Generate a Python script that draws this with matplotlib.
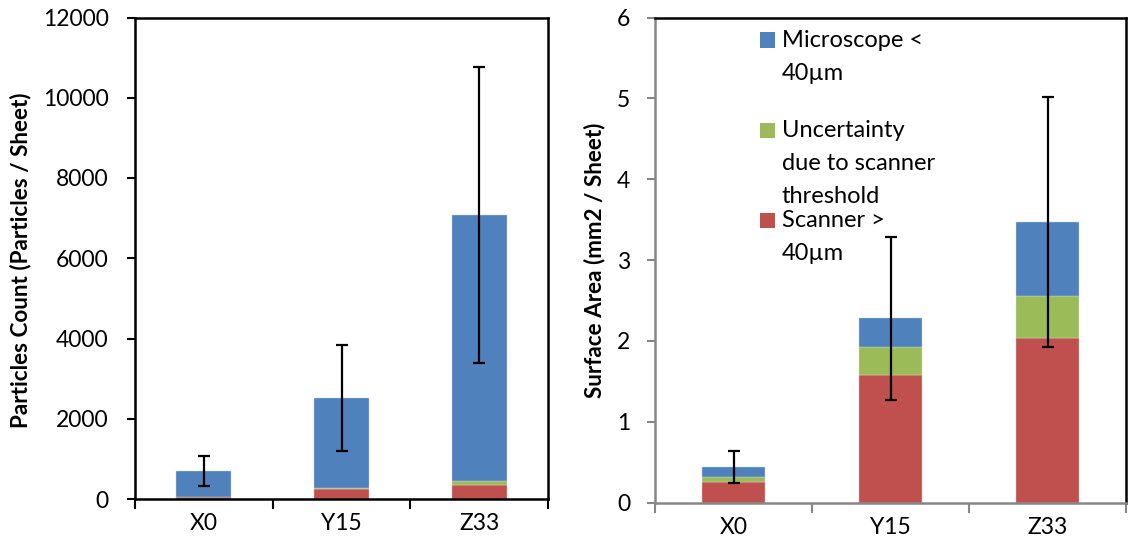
import matplotlib
matplotlib.use("Agg")
import matplotlib.pyplot as plt
from matplotlib.patches import Rectangle
import numpy as np

plt.rcParams['font.family'] = ['Lato', 'DejaVu Sans']

# ---- data ----
categories = ["X0", "Y15", "Z33"]

count_scanner = [40, 240, 340]
count_uncert = [5, 43, 100]
count_micro = [655, 2232, 6630]
count_err = [375, 1318, 3690]

area_scanner = [0.257, 1.573, 2.04]
area_uncert = [0.063, 0.352, 0.52]
area_micro = [0.12, 0.355, 0.91]
area_err = [0.20, 1.005, 1.55]

legend_labels = ["Microscope <\n40µm", "Uncertainty\ndue to scanner\nthreshold", "Scanner >\n40µm"]

c_blue = "#4F81BD"
c_green = "#9BBB59"
c_red = "#C0504D"

W, H = 1131, 546
fig = plt.figure(figsize=(W / 100, H / 100), dpi=100)

def fx(px):
    return px / W

def fy(py):
    return 1 - py / H

ax1 = fig.add_axes([fx(135), fy(499), fx(548) - fx(135), fy(17.5) - fy(499)])
ax2 = fig.add_axes([fx(655), fy(502.7), fx(1126) - fx(655), fy(17.5) - fy(502.7)])

TICK_FS = 16.5


def draw(ax, scanner, uncert, micro, err, ylim, step, spine_col, ypad):
    x = np.arange(len(categories))
    scanner = np.array(scanner)
    uncert = np.array(uncert)
    micro = np.array(micro)
    w = 0.4
    ax.bar(x, scanner, w, color=c_red, edgecolor="#e4c4c3", linewidth=0.3, zorder=2)
    ax.bar(x, uncert, w, bottom=scanner, color=c_green, edgecolor="#d4e2bd", linewidth=0.3, zorder=2)
    total = scanner + uncert + micro
    ax.bar(x, micro, w, bottom=scanner + uncert, color=c_blue, edgecolor="#c4d4ea", linewidth=0.3, zorder=2)
    ax.errorbar(x, total, yerr=err, fmt="none", ecolor="black", elinewidth=1.6,
                capsize=4.3, capthick=1.6, zorder=3)
    ax.set_xlim(-0.5, len(categories) - 0.5)
    ax.set_ylim(*ylim)
    ax.set_yticks(np.arange(ylim[0], ylim[1] + step / 2, step))
    ax.set_xticks(np.arange(-0.5, len(categories), 1.0))
    ax.set_xticklabels([])
    ax.set_xticks(x, minor=True)
    ax.set_xticklabels(categories, minor=True)
    ax.tick_params(axis="x", which="minor", length=0, pad=10, labelsize=TICK_FS)
    ax.tick_params(axis="x", which="major", length=7, width=1.5, color=spine_col)
    ax.tick_params(axis="y", length=6, width=1.5, pad=ypad, labelsize=TICK_FS, color=spine_col)
    for s in ["top", "right"]:
        ax.spines[s].set_color("black")
        ax.spines[s].set_linewidth(1.8)
    for s in ["left", "bottom"]:
        ax.spines[s].set_color(spine_col)
        ax.spines[s].set_linewidth(1.8)


draw(ax1, count_scanner, count_uncert, count_micro, count_err, (0, 12000), 2000, "black", 13)
draw(ax2, area_scanner, area_uncert, area_micro, area_err, (0, 6), 1, "#868686", 12)

fig.text(fx(21), fy(260), "Particles Count (Particles / Sheet)", rotation=90,
         ha="center", va="center", fontsize=16.2, fontweight="bold")
fig.text(fx(595), fy(260), "Surface Area (mm2 / Sheet)", rotation=90,
         ha="center", va="center", fontsize=16.2, fontweight="bold")

# legend (Excel-style fixed slots, lines placed one by one)
leg_colors = [c_blue, c_green, c_red]
slot_y = [40, 130, 220]
line_gap = 33
for lab, col, yc in zip(legend_labels, leg_colors, slot_y):
    fig.patches.append(Rectangle((fx(760), fy(yc + 7.5)), fx(15), fy(0) - fy(15),
                                 transform=fig.transFigure, facecolor=col, edgecolor="none"))
    for i, line in enumerate(lab.split("\n")):
        fig.text(fx(782), fy(yc + 7 + i * line_gap), line, ha="left", va="baseline", fontsize=17)

fig.savefig("out.png", dpi=100)
